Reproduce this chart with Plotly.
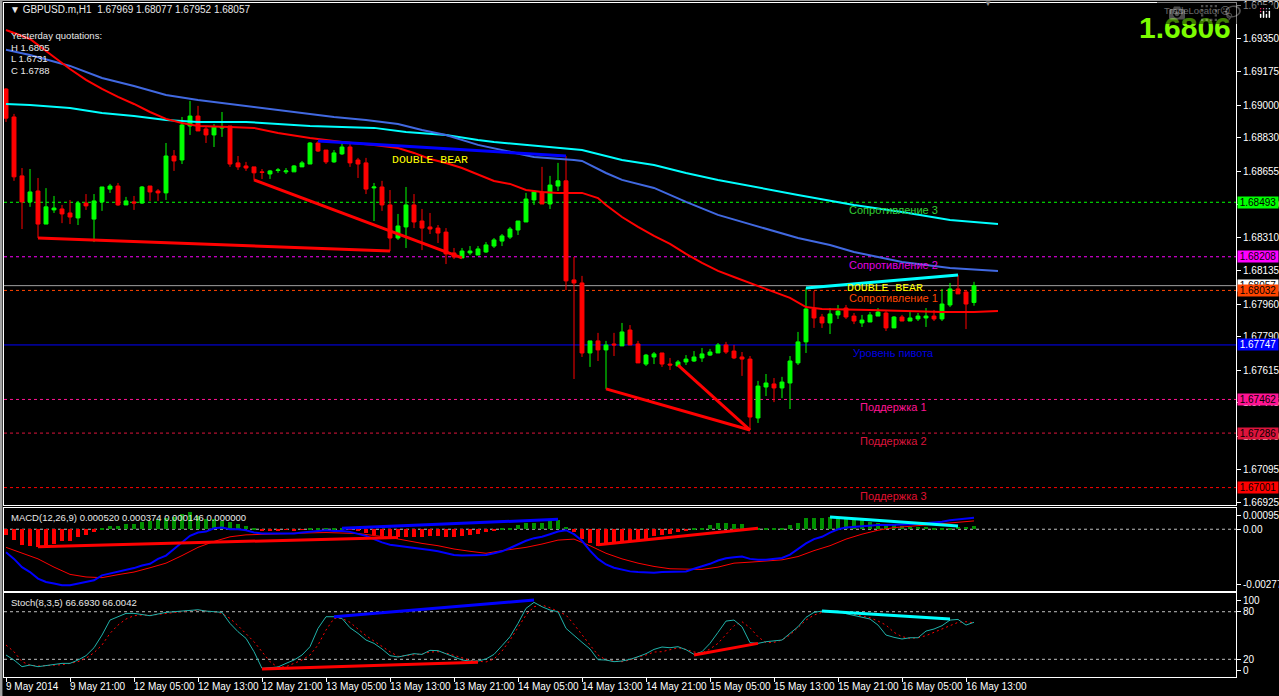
import plotly.graph_objects as go

# ---------------- data ----------------
open_ = [1.69085, 1.68939, 1.68631, 1.68495, 1.68552, 1.68379, 1.68453, 1.68458, 1.68437, 1.68411,
 1.68489, 1.68405, 1.68495, 1.68562, 1.68578, 1.68479, 1.68495, 1.68489, 1.68578, 1.68552,
 1.68542, 1.68735, 1.68714, 1.68892, 1.68944, 1.68876, 1.68845, 1.68881, 1.68892, 1.68699,
 1.68683, 1.68678, 1.68652, 1.68641, 1.68659, 1.68652, 1.68652, 1.68678, 1.68693, 1.68803,
 1.68766, 1.68704, 1.68746, 1.68782, 1.68714, 1.68699, 1.68568, 1.68573, 1.68479, 1.68306,
 1.68364, 1.68479, 1.68395, 1.68364, 1.68358, 1.68337, 1.68228, 1.68202, 1.68228, 1.68217,
 1.68233, 1.68264, 1.68290, 1.68311, 1.68348, 1.68390, 1.68505, 1.68547, 1.68484, 1.68578,
 1.68605, 1.68087, 1.68071, 1.67705, 1.67768, 1.67721, 1.67752, 1.67742, 1.67825, 1.67752,
 1.67647, 1.67684, 1.67705, 1.67647, 1.67637, 1.67658, 1.67663, 1.67679, 1.67694, 1.67705,
 1.67747, 1.67715, 1.67684, 1.67673, 1.67365, 1.67527, 1.67543, 1.67522, 1.67548, 1.67653,
 1.67763, 1.67935, 1.67893, 1.67862, 1.67904, 1.67940, 1.67898, 1.67862, 1.67867, 1.67898,
 1.67914, 1.67836, 1.67893, 1.67872, 1.67883, 1.67888, 1.67898, 1.67883, 1.67956, 1.68040,
 1.68024, 1.67969]
high = [1.69090, 1.68955, 1.68672, 1.68667, 1.68620, 1.68567, 1.68526, 1.68479, 1.68505, 1.68500,
 1.68536, 1.68536, 1.68573, 1.68589, 1.68594, 1.68521, 1.68526, 1.68578, 1.68578, 1.68562,
 1.68803, 1.68766, 1.68939, 1.69023, 1.68997, 1.68892, 1.68902, 1.68965, 1.68892, 1.68735,
 1.68704, 1.68678, 1.68667, 1.68662, 1.68672, 1.68672, 1.68688, 1.68709, 1.68808, 1.68813,
 1.68766, 1.68766, 1.68813, 1.68808, 1.68725, 1.68725, 1.68594, 1.68605, 1.68557, 1.68432,
 1.68573, 1.68536, 1.68458, 1.68437, 1.68374, 1.68358, 1.68254, 1.68254, 1.68264, 1.68264,
 1.68285, 1.68306, 1.68327, 1.68364, 1.68395, 1.68542, 1.68557, 1.68678, 1.68631, 1.68699,
 1.68735, 1.68207, 1.68108, 1.67768, 1.67810, 1.67768, 1.67810, 1.67862, 1.67851, 1.67768,
 1.67700, 1.67710, 1.67705, 1.67679, 1.67668, 1.67694, 1.67715, 1.67731, 1.67726, 1.67757,
 1.67763, 1.67747, 1.67710, 1.67689, 1.67559, 1.67595, 1.67574, 1.67580, 1.67689, 1.67815,
 1.68045, 1.68029, 1.67909, 1.67940, 1.67956, 1.67956, 1.67914, 1.67904, 1.67919, 1.67940,
 1.67924, 1.67898, 1.67904, 1.67924, 1.67914, 1.67940, 1.67930, 1.68040, 1.68071, 1.68113,
 1.68034, 1.68077]
low = [1.68913, 1.68605, 1.68353, 1.68469, 1.68306, 1.68379, 1.68437, 1.68384, 1.68379, 1.68374,
 1.68453, 1.68285, 1.68448, 1.68542, 1.68474, 1.68479, 1.68453, 1.68484, 1.68500, 1.68500,
 1.68505, 1.68657, 1.68693, 1.68845, 1.68866, 1.68803, 1.68782, 1.68835, 1.68678, 1.68662,
 1.68657, 1.68610, 1.68615, 1.68615, 1.68647, 1.68641, 1.68652, 1.68678, 1.68693, 1.68756,
 1.68693, 1.68699, 1.68740, 1.68678, 1.68620, 1.68536, 1.68395, 1.68448, 1.68238, 1.68296,
 1.68254, 1.68358, 1.68243, 1.68327, 1.68280, 1.68170, 1.68196, 1.68202, 1.68217, 1.68217,
 1.68228, 1.68254, 1.68264, 1.68301, 1.68322, 1.68390, 1.68479, 1.68484, 1.68458, 1.68552,
 1.68034, 1.67569, 1.67684, 1.67632, 1.67663, 1.67517, 1.67689, 1.67742, 1.67747, 1.67653,
 1.67637, 1.67647, 1.67632, 1.67616, 1.67637, 1.67642, 1.67658, 1.67658, 1.67689, 1.67705,
 1.67700, 1.67673, 1.67585, 1.67302, 1.67339, 1.67480, 1.67448, 1.67469, 1.67412, 1.67642,
 1.67705, 1.67836, 1.67836, 1.67804, 1.67883, 1.67883, 1.67856, 1.67841, 1.67867, 1.67898,
 1.67820, 1.67836, 1.67872, 1.67872, 1.67872, 1.67841, 1.67872, 1.67872, 1.67945, 1.68014,
 1.67830, 1.67952]
close = [1.68933, 1.68626, 1.68495, 1.68547, 1.68379, 1.68469, 1.68463, 1.68432, 1.68416, 1.68489,
 1.68474, 1.68500, 1.68573, 1.68578, 1.68479, 1.68500, 1.68489, 1.68573, 1.68547, 1.68542,
 1.68735, 1.68709, 1.68897, 1.68944, 1.68866, 1.68845, 1.68887, 1.68887, 1.68693, 1.68678,
 1.68672, 1.68647, 1.68649, 1.68657, 1.68662, 1.68657, 1.68683, 1.68699, 1.68803, 1.68761,
 1.68704, 1.68751, 1.68782, 1.68699, 1.68693, 1.68562, 1.68573, 1.68479, 1.68306, 1.68369,
 1.68479, 1.68390, 1.68358, 1.68353, 1.68332, 1.68223, 1.68207, 1.68238, 1.68238, 1.68249,
 1.68270, 1.68296, 1.68317, 1.68353, 1.68395, 1.68510, 1.68547, 1.68484, 1.68583, 1.68605,
 1.68082, 1.68071, 1.67705, 1.67768, 1.67721, 1.67747, 1.67747, 1.67815, 1.67747, 1.67653,
 1.67694, 1.67700, 1.67647, 1.67642, 1.67658, 1.67673, 1.67684, 1.67700, 1.67710, 1.67747,
 1.67710, 1.67679, 1.67673, 1.67370, 1.67532, 1.67548, 1.67522, 1.67553, 1.67663, 1.67763,
 1.67935, 1.67888, 1.67862, 1.67909, 1.67924, 1.67893, 1.67872, 1.67877, 1.67904, 1.67919,
 1.67836, 1.67893, 1.67872, 1.67888, 1.67898, 1.67898, 1.67883, 1.67961, 1.68040, 1.68014,
 1.67961, 1.68057]

# moving averages (bar index, price) - drawn with forward shift
ma_red_i = [0, 3, 6, 8, 10, 12, 14, 16, 18, 20, 22, 24, 28, 31, 34, 38, 42, 46, 49, 51,
            53, 55, 57, 59, 61, 63, 65, 67, 69, 72, 74, 75, 77, 79, 81, 83, 85, 87, 89, 91,
            93, 96, 98, 100, 102, 108, 112, 117, 121, 124]
ma_red_v = [1.69394, 1.69347, 1.69253, 1.69190, 1.69133, 1.69086, 1.69044, 1.69007, 1.68965, 1.68929,
            1.68908, 1.68892, 1.68887, 1.68882, 1.68855, 1.68829, 1.68808, 1.68793, 1.68777, 1.68751,
            1.68719, 1.68698, 1.68672, 1.68636, 1.68604, 1.68589, 1.68557, 1.68547, 1.68542, 1.68542,
            1.68515, 1.68479, 1.68416, 1.68364, 1.68317, 1.68275, 1.68223, 1.68176, 1.68134, 1.68102,
            1.68071, 1.68024, 1.67993, 1.67945, 1.67935, 1.67930, 1.67924, 1.67919, 1.67919, 1.67924]
ma_blue_i = [0, 3, 8, 12, 16, 20, 24, 28, 32, 36, 41, 45, 49, 52, 55, 59, 62, 66, 71, 72,
             75, 77, 81, 85, 89, 93, 99, 103, 106, 112, 118, 124]
ma_blue_v = [1.69290, 1.69263, 1.69206, 1.69143, 1.69101, 1.69054, 1.69028, 1.69007, 1.68986, 1.68965,
             1.68939, 1.68923, 1.68902, 1.68871, 1.68845, 1.68793, 1.68766, 1.68730, 1.68714, 1.68709,
             1.68646, 1.68610, 1.68568, 1.68495, 1.68427, 1.68380, 1.68306, 1.68270, 1.68233, 1.68181,
             1.68149, 1.68134]
ma_cyan_i = [0, 3, 8, 12, 16, 20, 24, 30, 34, 38, 42, 46, 50, 55, 59, 61, 72, 77, 81, 85,
             89, 93, 99, 106, 112, 118, 124]
ma_cyan_v = [1.69007, 1.69002, 1.68986, 1.68960, 1.68944, 1.68923, 1.68913, 1.68913, 1.68902, 1.68892,
             1.68887, 1.68882, 1.68861, 1.68845, 1.68819, 1.68808, 1.68766, 1.68714, 1.68688, 1.68646,
             1.68610, 1.68578, 1.68531, 1.68479, 1.68442, 1.68400, 1.68380]

# MACD(12,26,9)
macd_hist = [-0.000252, -0.000488, -0.000696, -0.000770, -0.000814, -0.000740, -0.000666, -0.000548, -0.000518, -0.000340,
 -0.000252, -0.000104, 0.000074, 0.000163, 0.000163, 0.000222, 0.000222, 0.000340, 0.000370, 0.000444,
 0.000518, 0.000548, 0.000666, 0.000784, 0.000592, 0.000444, 0.000444, 0.000370, 0.000340, 0.000252,
 0.000148, 0.000074, -0.000044, -0.000044, -0.000044, -0.000030, -0.000074, -0.000030, 0.000074, 0.000074,
 0.000074, 0.000074, 0.000030, -0.000030, -0.000074, -0.000148, -0.000252, -0.000296, -0.000370, -0.000370,
 -0.000370, -0.000340, -0.000340, -0.000296, -0.000296, -0.000340, -0.000340, -0.000296, -0.000252, -0.000192,
 -0.000104, -0.000074, 0.000044, 0.000074, 0.000178, 0.000296, 0.000296, 0.000296, 0.000370, 0.000400,
 0.000118, -0.000104, -0.000444, -0.000636, -0.000740, -0.000666, -0.000636, -0.000592, -0.000548, -0.000488,
 -0.000444, -0.000296, -0.000252, -0.000192, -0.000104, -0.000044, 0.000044, 0.000074, 0.000178, 0.000266,
 0.000266, 0.000252, 0.000222, 0.000074, 0.000015, 0.000030, 0.000044, 0.000074, 0.000178, 0.000296,
 0.000488, 0.000518, 0.000518, 0.000562, 0.000518, 0.000488, 0.000444, 0.000400, 0.000340, 0.000296,
 0.000222, 0.000178, 0.000148, 0.000118, 0.000104, 0.000104, 0.000074, 0.000074, 0.000074, 0.000104,
 0.000104, 0.000146]
macd_main = [-0.001036, -0.001332, -0.001702, -0.001924, -0.002220, -0.002368, -0.002442, -0.002516, -0.002516, -0.002442,
 -0.002398, -0.002294, -0.002072, -0.001998, -0.001924, -0.001850, -0.001746, -0.001628, -0.001554, -0.001332,
 -0.001184, -0.000888, -0.000592, -0.000296, -0.000148, -0.000104, 0.000044, 0.000074, 0.000000, 0.000000,
 -0.000044, -0.000148, -0.000192, -0.000192, -0.000192, -0.000192, -0.000192, -0.000148, -0.000104, -0.000074,
 -0.000044, -0.000074, -0.000074, -0.000118, -0.000192, -0.000296, -0.000444, -0.000592, -0.000696, -0.000740,
 -0.000770, -0.000814, -0.000888, -0.000932, -0.000992, -0.001080, -0.001154, -0.001184, -0.001184, -0.001184,
 -0.001154, -0.001080, -0.000992, -0.000844, -0.000666, -0.000518, -0.000400, -0.000340, -0.000222, -0.000104,
 -0.000044, -0.000222, -0.000518, -0.000962, -0.001332, -0.001584, -0.001732, -0.001806, -0.001894, -0.001924,
 -0.001954, -0.001954, -0.001924, -0.001924, -0.001924, -0.001894, -0.001776, -0.001672, -0.001554, -0.001406,
 -0.001302, -0.001258, -0.001228, -0.001332, -0.001376, -0.001376, -0.001332, -0.001288, -0.001140, -0.000888,
 -0.000636, -0.000444, -0.000340, -0.000148, 0.000000, 0.000074, 0.000104, 0.000133, 0.000178, 0.000192,
 0.000192, 0.000192, 0.000222, 0.000222, 0.000252, 0.000281, 0.000296, 0.000340, 0.000400, 0.000429,
 0.000470, 0.000520]
macd_sig_i = [0, 2, 4, 6, 8, 10, 12, 14, 16, 18, 20, 22, 24, 26, 28, 30, 32, 34, 36, 38, 40,
              44, 48, 50, 52, 54, 56, 58, 60, 62, 65, 67, 69, 71, 73, 75, 77, 79, 81, 83, 85,
              87, 89, 91, 93, 95, 97, 99, 101, 103, 105, 107, 109, 111, 113, 115, 117, 119, 121]
macd_sig_v = [-0.000814, -0.001080, -0.001332, -0.001702, -0.002028, -0.002146, -0.002176, -0.002042, -0.001924,
              -0.001732, -0.001524, -0.001184, -0.000814, -0.000548, -0.000340, -0.000252, -0.000222, -0.000222,
              -0.000192, -0.000163, -0.000148, -0.000192, -0.000370, -0.000518, -0.000636, -0.000740, -0.000888,
              -0.000992, -0.001080, -0.000962, -0.000814, -0.000666, -0.000488, -0.000444, -0.000740, -0.001080,
              -0.001332, -0.001524, -0.001672, -0.001776, -0.001806, -0.001806, -0.001702, -0.001524, -0.001480,
              -0.001436, -0.001376, -0.001228, -0.000962, -0.000740, -0.000444, -0.000222, -0.000044, 0.000074,
              0.000148, 0.000192, 0.000252, 0.000326, 0.000374]

# Stochastic(8,3,5)
stoch_k = [25.4, 19.1, 10.7, 12.8, 10.7, 12.0, 13.6, 14.9, 14.9, 19.1,
 24.6, 34.6, 50.6, 69.5, 73.7, 77.9, 77.9, 76.6, 75.0, 77.1,
 79.2, 80.0, 80.8, 82.5, 82.5, 80.8, 80.0, 79.2, 65.3, 54.8,
 46.4, 29.6, 8.6, 9.0, 10.3, 14.9, 19.1, 25.4, 35.9, 59.0,
 73.7, 73.7, 71.6, 59.8, 52.7, 44.3, 40.1, 33.0, 24.6, 22.9,
 25.4, 27.1, 26.2, 31.3, 30.9, 27.1, 23.3, 19.1, 17.8, 17.8,
 20.4, 26.2, 37.2, 48.5, 65.3, 84.2, 91.8, 86.3, 82.1, 80.0,
 59.0, 49.8, 41.4, 33.0, 19.5, 19.1, 17.0, 17.8, 19.9, 23.3,
 27.1, 32.5, 35.5, 34.6, 35.9, 32.1, 26.2, 29.6, 40.1, 54.0,
 68.2, 69.5, 61.1, 40.9, 40.1, 42.2, 43.5, 44.3, 52.7, 61.1,
 72.9, 79.2, 80.8, 80.8, 80.8, 77.5, 75.0, 72.4, 70.8, 63.2,
 50.6, 47.7, 45.6, 47.2, 47.2, 55.6, 58.2, 62.4, 69.5, 70.3,
 63.2, 66.69]
stoch_d = [38.0, 29.6, 17.0, 12.8, 11.5, 12.0, 12.4, 13.2, 14.9, 17.0,
 21.2, 28.3, 38.0, 52.7, 63.2, 70.8, 75.0, 75.8, 75.4, 76.6,
 77.9, 79.2, 80.0, 81.3, 81.7, 81.3, 80.0, 77.9, 71.6, 62.4,
 52.7, 42.2, 29.6, 17.0, 9.9, 10.7, 14.9, 19.1, 25.4, 38.0,
 56.9, 71.6, 71.6, 66.6, 58.2, 49.8, 43.0, 35.9, 29.6, 23.7,
 24.6, 25.4, 26.7, 29.2, 29.6, 27.9, 25.4, 22.0, 18.7, 17.8,
 16.6, 20.4, 30.4, 44.3, 59.8, 75.8, 86.3, 88.4, 85.0, 80.8,
 75.8, 64.0, 50.6, 38.0, 25.4, 19.1, 17.8, 17.0, 19.1, 22.9,
 25.4, 29.2, 29.6, 32.5, 34.6, 32.5, 29.2, 27.9, 33.0, 40.1,
 50.6, 62.4, 67.4, 59.8, 48.5, 40.9, 41.4, 44.3, 50.6, 59.8,
 69.5, 75.8, 79.2, 80.0, 79.6, 78.3, 76.6, 74.5, 72.4, 68.2,
 63.2, 54.0, 48.5, 46.4, 47.2, 49.8, 54.0, 58.2, 63.2, 66.6,
 67.4, 66.00]

# drawn trend lines: [bar0, bar1], [value0, value1], colour
trend_main = [([4, 48], [1.68306, 1.68238], "#FF0000"),
              ([31, 57], [1.68610, 1.68202], "#FF0000"),
              ([39, 70], [1.68813, 1.68735], "#0000FF"),
              ([75, 93], [1.67517, 1.67302], "#FF0000"),
              ([84, 93], [1.67642, 1.67302], "#FF0000"),
              ([100, 119], [1.68045, 1.68113], "#00FFFF")]
trend_macd = [([4, 49], [-0.000784, -0.000370], "#FF0000"),
              ([42, 69], [0.000044, 0.000444], "#0000FF"),
              ([74, 94], [-0.000696, 0.000044], "#FF0000"),
              ([103, 119], [0.000548, 0.000148], "#00FFFF")]
trend_stoch = [([41, 66], [73.7, 94.7], "#0000FF"),
               ([32, 59], [7.8, 16.2], "#FF0000"),
               ([86, 94], [25.4, 40.1], "#FF0000"),
               ([102, 118], [80.8, 70.8], "#00FFFF")]

# pivot levels
level_names = ["Сопротивление 3", "Сопротивление 2", "Сопротивление 1", "Уровень пивота",
               "Поддержка 1", "Поддержка 2", "Поддержка 3"]
level_values = [1.68493, 1.68208, 1.68032, 1.67747, 1.67462, 1.67286, 1.67001]
level_colors = ["#00FF00", "#FF00FF", "#FF4500", "#0000FF", "#FF1493", "#DC143C", "#FF0000"]
level_text_colors = ["#32CD32", "#E000E0", "#FF4500", "#0000E0", "#FF1493", "#DC143C", "#E01030"]
level_box_text = ["#000000", "#000000", "#000000", "#FFFFFF", "#000000", "#000000", "#000000"]
bid_price = 1.68057

price_ticks = [1.69520, 1.69350, 1.69175, 1.69000, 1.68830, 1.68655, 1.68480, 1.68310,
               1.68135, 1.67960, 1.67790, 1.67615, 1.67445, 1.67270, 1.67095, 1.66925]
time_tick_bars = [0, 8, 16, 24, 32, 40, 48, 56, 64, 72, 80, 88, 96, 104, 112, 120]
time_tick_labels = ["9 May 2014", "9 May 21:00", "12 May 05:00", "12 May 13:00", "12 May 21:00",
                    "13 May 05:00", "13 May 13:00", "13 May 21:00", "14 May 05:00", "14 May 13:00",
                    "14 May 21:00", "15 May 05:00", "15 May 13:00", "15 May 21:00", "16 May 05:00",
                    "16 May 13:00"]

# ---------------- figure ----------------
FONT = "Liberation Sans"
bars = list(range(len(open_)))
fig = go.Figure()

fig.add_trace(go.Candlestick(
    x=bars, open=open_, high=high, low=low, close=close,
    increasing=dict(line=dict(color="#00FF00", width=1), fillcolor="#00FF00"),
    decreasing=dict(line=dict(color="#FF0000", width=1), fillcolor="#FF0000"),
    whiskerwidth=0, xaxis="x", yaxis="y", showlegend=False, hoverinfo="skip"))

for xs, ys, col in [(ma_cyan_i, ma_cyan_v, "#00FFFF"), (ma_blue_i, ma_blue_v, "#4169E1"),
                    (ma_red_i, ma_red_v, "#FF0000")]:
    fig.add_trace(go.Scatter(x=xs, y=ys, mode="lines", line=dict(color=col, width=2),
                             xaxis="x", yaxis="y", showlegend=False, hoverinfo="skip"))

for xs, ys, col in trend_main:
    fig.add_trace(go.Scatter(x=xs, y=ys, mode="lines", line=dict(color=col, width=3),
                             xaxis="x", yaxis="y", showlegend=False, hoverinfo="skip"))

# MACD
hist_colors = ["#009000" if v >= 0 else "#FF0000" for v in macd_hist]
fig.add_trace(go.Bar(x=bars, y=macd_hist, marker=dict(color=hist_colors, line=dict(width=0)),
                     width=0.38, xaxis="x2", yaxis="y2", showlegend=False, hoverinfo="skip"))
fig.add_trace(go.Scatter(x=macd_sig_i, y=macd_sig_v, mode="lines", line=dict(color="#FF0000", width=1),
                         xaxis="x2", yaxis="y2", showlegend=False, hoverinfo="skip"))
fig.add_trace(go.Scatter(x=bars, y=macd_main, mode="lines", line=dict(color="#0000FF", width=2),
                         xaxis="x2", yaxis="y2", showlegend=False, hoverinfo="skip"))
for xs, ys, col in trend_macd:
    fig.add_trace(go.Scatter(x=xs, y=ys, mode="lines", line=dict(color=col, width=3),
                             xaxis="x2", yaxis="y2", showlegend=False, hoverinfo="skip"))

# Stochastic
fig.add_trace(go.Scatter(x=bars, y=stoch_d, mode="lines", line=dict(color="#FF0000", width=1, dash="2px,3px"),
                         xaxis="x3", yaxis="y3", showlegend=False, hoverinfo="skip"))
fig.add_trace(go.Scatter(x=bars, y=stoch_k, mode="lines", line=dict(color="#20B2AA", width=1),
                         xaxis="x3", yaxis="y3", showlegend=False, hoverinfo="skip"))
for xs, ys, col in trend_stoch:
    fig.add_trace(go.Scatter(x=xs, y=ys, mode="lines", line=dict(color=col, width=3),
                             xaxis="x3", yaxis="y3", showlegend=False, hoverinfo="skip"))

shapes = []
# current bid line
shapes.append(dict(type="line", xref="paper", x0=0, x1=1, yref="y", y0=bid_price, y1=bid_price,
                   line=dict(color="#A0A0A0", width=1), layer="below"))
for v, c, name in zip(level_values, level_colors, level_names):
    dash = "solid" if name == "Уровень пивота" else "3px,3px"
    shapes.append(dict(type="line", xref="paper", x0=0, x1=1, yref="y", y0=v, y1=v,
                       line=dict(color=c, width=1, dash=dash), layer="below"))
shapes.append(dict(type="line", xref="paper", x0=0, x1=1, yref="y2", y0=0, y1=0,
                   line=dict(color="#C0C0C0", width=1, dash="3px,3px"), layer="below"))
for lv in (80, 20):
    shapes.append(dict(type="line", xref="paper", x0=0, x1=1, yref="y3", y0=lv, y1=lv,
                       line=dict(color="#C0C0C0", width=1, dash="3px,3px"), layer="below"))
# window frame
shapes.append(dict(type="line", xref="paper", yref="paper", x0=-0.004, x1=1.04, y0=1.0045, y1=1.0045,
                   line=dict(color="#A0A0A0", width=2)))
shapes.append(dict(type="line", xref="paper", yref="paper", x0=-0.0025, x1=-0.0025, y0=-0.03, y1=1.005,
                   line=dict(color="#A0A0A0", width=3)))

ann = []
def txt(x, y, s, color="#E8E8E8", size=10, xanchor="left", yanchor="middle", family=FONT, **kw):
    ann.append(dict(x=x, y=y, xref="paper", yref="paper", text=s, showarrow=False,
                    xanchor=xanchor, yanchor=yanchor, font=dict(color=color, size=size, family=family), **kw))

def px_x(p):
    return (p - 4) / 1232.0
def px_y(p):
    return (677 - p) / 674.0

txt(px_x(8), px_y(10), "▼ GBPUSD.m,H1  1.67969 1.68077 1.67952 1.68057", size=10)
txt(px_x(9), px_y(36), "Yesterday quotations:", size=9.5)
txt(px_x(9), px_y(47.5), "H 1.6805", size=9.5)
txt(px_x(9), px_y(59), "L 1.6731", size=9.5)
txt(px_x(9), px_y(70.5), "C 1.6788", size=9.5)
txt(px_x(1233), px_y(27), "<b>1.6806</b>", color="#7CFC00", size=30, xanchor="right")
txt(px_x(1232), px_y(11), "TradeLocator☹", color="#D0D0D0", size=9.5, xanchor="right")
txt(px_x(988), px_y(3), "▼", color="#909090", size=8, xanchor="center")
txt(px_x(9), px_y(517), "MACD(12,26,9) 0.000520 0.000374 0.000146 0.000000", size=9.5)
txt(px_x(9), px_y(602), "Stoch(8,3,5) 66.6930 66.0042", size=9.5)

# time labels
for b, lab in zip(time_tick_bars, time_tick_labels):
    ann.append(dict(x=b, y=px_y(686), xref="x3", yref="paper", text=lab, showarrow=False,
                    xanchor="left", yanchor="middle", xshift=-2,
                    font=dict(color="#FFFFFF", size=10, family=FONT)))

# pivot labels
for v, name, tc in zip(level_values, level_names, level_text_colors):
    ann.append(dict(x=110.9, y=v, xref="x", yref="y", text=name, showarrow=False,
                    xanchor="center", yanchor="middle", yshift=-8,
                    font=dict(color=tc, size=11, family=FONT)))
for bx, py in [(53, 1.68719), (109.9, 1.68045)]:
    ann.append(dict(x=bx, y=py, xref="x", yref="y", text="DOUBLE BEAR", showarrow=False,
                    xanchor="center", yanchor="middle",
                    font=dict(color="#FFFF00", size=11.5, family="Liberation Mono")))

# price boxes on right axis
ann.append(dict(x=1.0, y=bid_price, xref="paper", yref="y", text="1.68057", showarrow=False,
                xanchor="left", yanchor="middle", xshift=1, bgcolor="#FFFFFF", width=40, height=11,
                borderpad=0, font=dict(color="#000000", size=10, family=FONT)))
for v, c, tc in zip(level_values, level_colors, level_box_text):
    ann.append(dict(x=1.0, y=v, xref="paper", yref="y", text=f"{v:.5f}", showarrow=False,
                    xanchor="left", yanchor="middle", xshift=1, bgcolor=c, width=40, height=11,
                    borderpad=0, font=dict(color=tc, size=10, family=FONT)))

axis_common = dict(showgrid=False, zeroline=False, showline=True, mirror=True,
                   linecolor="#FFFFFF", linewidth=1, fixedrange=True, automargin=False)
x_range = [-0.25, 153.75]
fig.update_layout(
    width=1279, height=696, autosize=False,
    margin=dict(l=4, r=43, t=3, b=19),
    paper_bgcolor="#000000", plot_bgcolor="#000000",
    showlegend=False, bargap=0,
    xaxis=dict(domain=[0, 1], range=x_range, anchor="y", showticklabels=False, ticks="",
               rangeslider=dict(visible=False), **axis_common),
    xaxis2=dict(domain=[0, 1], range=x_range, anchor="y2", matches="x", showticklabels=False, ticks="",
                **axis_common),
    xaxis3=dict(domain=[0, 1], range=x_range, anchor="y3", matches="x", showticklabels=False,
                tickvals=time_tick_bars, ticks="outside", ticklen=4, tickcolor="#FFFFFF", **axis_common),
    yaxis=dict(domain=[0.25519, 1], range=[1.66910, 1.69535], anchor="x", side="right",
               tickvals=price_ticks, ticktext=[f"{v:.5f}" for v in price_ticks],
               ticks="outside", ticklen=4, tickcolor="#FFFFFF",
               tickfont=dict(color="#FFFFFF", size=10, family=FONT), **axis_common),
    yaxis2=dict(domain=[0.12760, 0.25074], range=[-0.002776, 0.000955], anchor="x2", side="right",
                tickvals=[0.000618, 0.0, -0.002506], ticktext=["0.000955", "0.00", "-0.002776"],
                ticks="outside", ticklen=4, tickcolor="#FFFFFF",
                tickfont=dict(color="#FFFFFF", size=10, family=FONT), **axis_common),
    yaxis3=dict(domain=[0, 0.12463], range=[-2.3, 103.6], anchor="x3", side="right",
                tickvals=[94.7, 80, 20, 6.5], ticktext=["100", "80", "20", "0"],
                ticks="outside", ticklen=4, tickcolor="#FFFFFF",
                tickfont=dict(color="#FFFFFF", size=10, family=FONT), **axis_common),
    shapes=shapes,
    annotations=ann,
)

fig.write_html("out.html",
               default_width="1279px", default_height="696px",
               config={"responsive": False},
               post_script="document.body.style.margin='0';document.body.style.padding='0';"
                           "document.body.style.overflow='hidden';"
                           "document.body.style.background='#000000';")
